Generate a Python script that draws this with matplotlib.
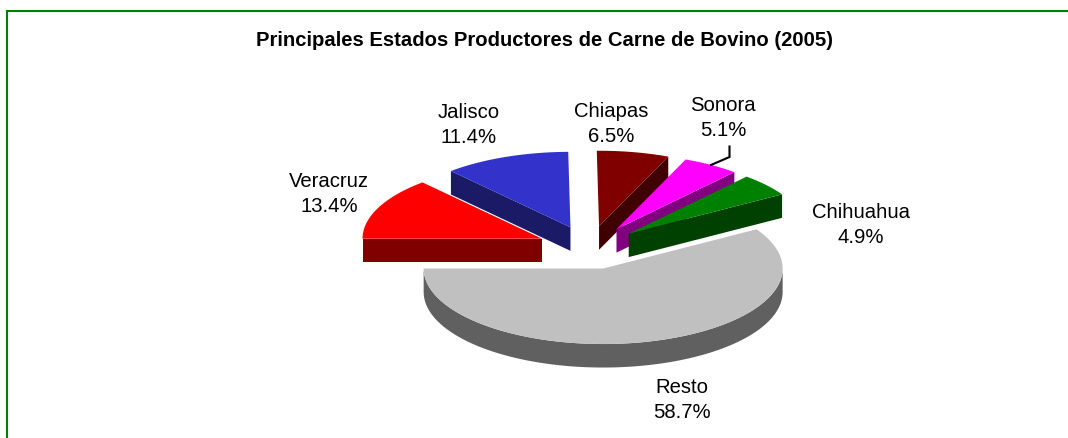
import numpy as np
import matplotlib
matplotlib.use("Agg")
import matplotlib.pyplot as plt

plt.rcParams['font.family'] = ['Liberation Sans', 'DejaVu Sans']

# ---------- DATA ----------
title = "Principales Estados Productores de Carne de Bovino (2005)"
estados = ["Veracruz", "Jalisco", "Chiapas", "Sonora", "Chihuahua", "Resto"]
valores = [13.4, 11.4, 6.5, 5.1, 4.9, 58.7]

top_colors = ["#ff0000", "#3333cc", "#800000", "#ff00ff", "#008000", "#c0c0c0"]
side_colors = ["#800000", "#1a1a66", "#400000", "#800080", "#004000", "#606060"]

# ---------- PIE GEOMETRY (pixels) ----------
W, H = 1068, 438
CX, CY = 589.2, 247.6
RX, RY = 179.5, 75.5
DEPTH = 23.5
EXPLODE = 0.288
START = 270


def point(tip, ang):
    a = np.radians(ang)
    return tip[0] + RX * np.sin(a), tip[1] - RY * np.cos(a)


def arc(tip, a0, a1, dy=0):
    angs = np.linspace(a0, a1, 80)
    x, y = point(tip, angs)
    return list(x), list(y + dy)


def wall(ax, tip, ang, color):
    # flat cut face going from the tip out to the rim
    x1, y1 = point(tip, ang)
    ax.fill([tip[0], x1, x1, tip[0]], [tip[1], y1, y1 + DEPTH, tip[1] + DEPTH],
            color=color, lw=0)


fig = plt.figure(figsize=(W / 100, H / 100), dpi=100)
ax = fig.add_axes([0, 0, 1, 1])
ax.set_xlim(0, W)
ax.set_ylim(H, 0)
ax.axis("off")

# frame, only top and left are visible
ax.plot([7, 7, W], [H, 10.7, 10.7], color="#008000", lw=1.5, solid_joinstyle="miter")

# ---------- SLICES ----------
angles = START + np.concatenate([[0], np.cumsum(valores)]) * 360 / sum(valores)
slices = {}
for i, name in enumerate(estados):
    a0, a1 = angles[i], angles[i + 1]
    mid = np.radians((a0 + a1) / 2)
    tip = (CX + EXPLODE * RX * np.sin(mid), CY - EXPLODE * RY * np.cos(mid))
    slices[name] = (i, tip, a0, a1)

for name in ["Jalisco", "Chiapas", "Sonora", "Chihuahua", "Veracruz", "Resto"]:
    i, tip, a0, a1 = slices[name]
    if name == "Jalisco":
        wall(ax, tip, a0, side_colors[i])
    elif name == "Veracruz":
        wall(ax, tip, a0, side_colors[i])
    elif name == "Resto":
        # outer rim, only the front half can be seen
        x, y = arc(tip, 90, 270)
        xb, yb = arc(tip, 270, 90, DEPTH)
        ax.fill(x + xb, y + yb, color=side_colors[i], lw=0)
    else:
        wall(ax, tip, a1, side_colors[i])
    x, y = arc(tip, a0, a1)
    ax.fill([tip[0]] + x, [tip[1]] + y, color=top_colors[i], lw=0)

# ---------- TEXT ----------
ax.text(544, 41, title, fontsize=14.6, fontweight="bold", ha="center", va="center")

label_pos = {
    "Veracruz": (329, 194),
    "Jalisco": (469, 125),
    "Chiapas": (611, 124),
    "Sonora": (723, 118),
    "Chihuahua": (861, 225),
    "Resto": (682, 400),
}
for name, val in zip(estados, valores):
    x, y = label_pos[name]
    ax.text(x, y, f"{name}\n{val}%", fontsize=14.6, ha="center", va="center",
            linespacing=1.35)

# leader line for Sonora
ax.plot([729.5, 729.5, 711], [146.5, 157, 165], color="black", lw=1.5,
        solid_joinstyle="miter")

fig.savefig("out.png", dpi=100)
